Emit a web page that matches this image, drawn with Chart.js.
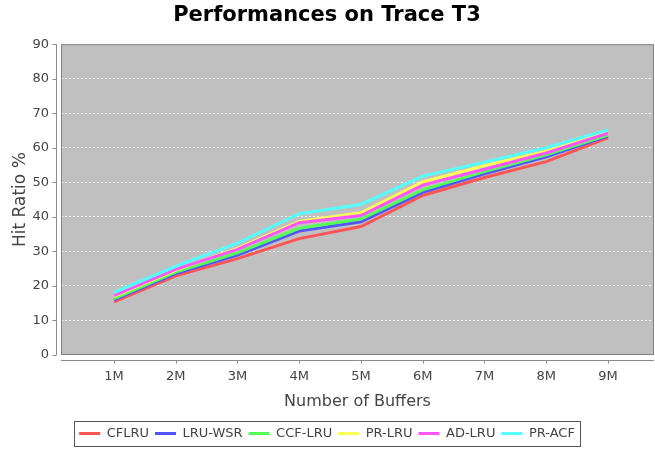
<!DOCTYPE html>
<html>
<head>
<meta charset="utf-8">
<script src="https://cdn.jsdelivr.net/npm/chart.js@4"></script>
<style>
  body { margin: 0; background: #fff; }
  #wrap { width: 655px; height: 450px; }
</style>
</head>
<body>
<div id="wrap"><canvas id="traceChart" width="655" height="450"></canvas></div>
<script>
// buffer sizes (millions) and their tick labels
const buffers = [1, 2, 3, 4, 5, 6, 7, 8, 9];
const bufferLabels = ['1M', '2M', '3M', '4M', '5M', '6M', '7M', '8M', '9M'];

// hit ratio % per algorithm
const cflru  = [15.4, 22.9, 27.9, 33.7, 37.2, 46.2, 51.4, 56.0, 62.9];
const lruWsr = [16.0, 23.6, 28.9, 35.9, 38.6, 47.1, 52.5, 57.4, 63.4];
const ccfLru = [16.3, 24.0, 29.6, 36.7, 39.4, 47.8, 53.1, 58.0, 63.7];
const prLru  = [17.0, 24.6, 30.9, 38.7, 41.2, 50.1, 54.8, 59.0, 64.5];
const adLru  = [17.2, 24.8, 30.6, 38.3, 40.4, 49.2, 53.8, 58.5, 64.2];
const prAcf  = [18.1, 25.7, 32.4, 40.9, 43.6, 51.8, 55.8, 60.0, 65.2];

const seriesNames = ['CFLRU', 'LRU-WSR', 'CCF-LRU', 'PR-LRU', 'AD-LRU', 'PR-ACF'];
const seriesData = [cflru, lruWsr, ccfLru, prLru, adLru, prAcf];
const seriesColors = ['#ff5555', '#5555ff', '#55ff55', '#ffff55', '#ff55ff', '#55ffff'];

// y axis ticks
const yMin = 0, yMax = 90, yStep = 10;

const FONT = 'DejaVu Sans';
const GREY = '#444444';

// JFreeChart look: grey plot, outline, axis lines offset from the plot
const plotDecor = {
    id: 'plotDecor',
    beforeDraw(chart) {
        const { ctx, chartArea: a } = chart;
        ctx.save();
        ctx.fillStyle = '#c0c0c0';
        ctx.fillRect(a.left, a.top, a.right - a.left, a.bottom - a.top);
        ctx.restore();
    },
    afterDraw(chart) {
        const { ctx, chartArea: a, scales } = chart;
        ctx.save();
        ctx.strokeStyle = '#808080';
        ctx.lineWidth = 1;
        ctx.strokeRect(a.left + 0.5, a.top + 0.5, a.right - a.left - 1, a.bottom - a.top - 1);

        // y axis line + ticks
        const ax = a.left - 4.5;
        ctx.strokeStyle = '#8a8a8a';
        ctx.beginPath();
        ctx.moveTo(ax, a.top);
        ctx.lineTo(ax, a.bottom);
        scales.y.ticks.forEach(t => {
            const py = Math.round(scales.y.getPixelForValue(t.value)) + 0.5;
            ctx.moveTo(ax - 4, py);
            ctx.lineTo(ax, py);
        });
        // x axis line + ticks
        const ay = a.bottom + 5.5;
        ctx.moveTo(a.left, ay);
        ctx.lineTo(a.right, ay);
        scales.x.ticks.forEach(t => {
            const px = Math.round(scales.x.getPixelForValue(t.value)) + 0.5;
            ctx.moveTo(px, ay);
            ctx.lineTo(px, ay + 3);
        });
        ctx.stroke();

        // legend frame
        const boxes = chart.legend.legendHitBoxes;
        if (boxes && boxes.length) {
            const l = Math.min(...boxes.map(b => b.left)) - 5;
            const r = Math.max(...boxes.map(b => b.left + b.width)) + 5;
            const t = Math.min(...boxes.map(b => b.top)) - 6;
            const btm = Math.max(...boxes.map(b => b.top + b.height)) + 6;
            ctx.strokeStyle = '#555';
            ctx.strokeRect(Math.round(l) + 0.5, Math.round(t) + 0.5, Math.round(r - l), Math.round(btm - t));
        }
        ctx.restore();
    }
};

const ctx = document.getElementById('traceChart').getContext('2d');
new Chart(ctx, {
    type: 'line',
    data: {
        datasets: seriesNames.map((name, i) => ({
            label: name,
            data: buffers.map((b, j) => ({ x: b, y: seriesData[i][j] })),
            borderColor: seriesColors[i],
            backgroundColor: seriesColors[i],
            borderWidth: 3,
            pointRadius: 0,
            tension: 0,
            order: seriesNames.length - i   // later series painted on top
        }))
    },
    options: {
        responsive: false,
        animation: false,
        layout: { padding: { left: 0, right: 1, top: 0, bottom: 0 } },
        scales: {
            x: {
                type: 'linear',
                min: 0.1417,
                max: 9.745,
                afterBuildTicks: s => { s.ticks = buffers.map(v => ({ value: v })); },
                afterFit: s => { s.height = 66; },
                ticks: {
                    padding: 14,
                    color: GREY,
                    font: { family: FONT, size: 13 },
                    callback: v => bufferLabels[buffers.indexOf(v)]
                },
                grid: { display: false, drawTicks: false },
                border: { display: false },
                title: {
                    display: true,
                    text: 'Number of Buffers',
                    color: GREY,
                    font: { family: FONT, size: 16 },
                    padding: { top: 0, bottom: 10 }
                }
            },
            y: {
                min: yMin,
                max: yMax,
                afterFit: s => { s.width = 61; },
                ticks: {
                    stepSize: yStep,
                    padding: 12,
                    color: GREY,
                    font: { family: FONT, size: 13 }
                },
                grid: {
                    color: 'rgba(255,255,255,0.85)',
                    lineWidth: 1,
                    drawTicks: false
                },
                border: { display: false, dash: [2, 2] },
                title: {
                    display: true,
                    text: 'Hit Ratio %',
                    color: GREY,
                    font: { family: FONT, size: 17 },
                    padding: { top: 10, bottom: 0 }
                }
            }
        },
        plugins: {
            title: {
                display: true,
                text: 'Performances on Trace T3',
                color: '#000',
                font: { family: FONT, size: 21, weight: 'bold' },
                padding: { top: 3, bottom: 16 }
            },
            legend: {
                position: 'bottom',
                labels: {
                    boxWidth: 21,
                    boxHeight: 3,
                    padding: 6,
                    color: GREY,
                    font: { family: FONT, size: 13 },
                    generateLabels: chart => chart.data.datasets.map((ds, i) => ({
                        text: ds.label,
                        fillStyle: ds.borderColor,
                        strokeStyle: ds.borderColor,
                        lineWidth: 0,
                        hidden: false,
                        datasetIndex: i,
                        fontColor: GREY
                    }))
                }
            },
            tooltip: { enabled: false }
        }
    },
    plugins: [plotDecor]
});
</script>
</body>
</html>
